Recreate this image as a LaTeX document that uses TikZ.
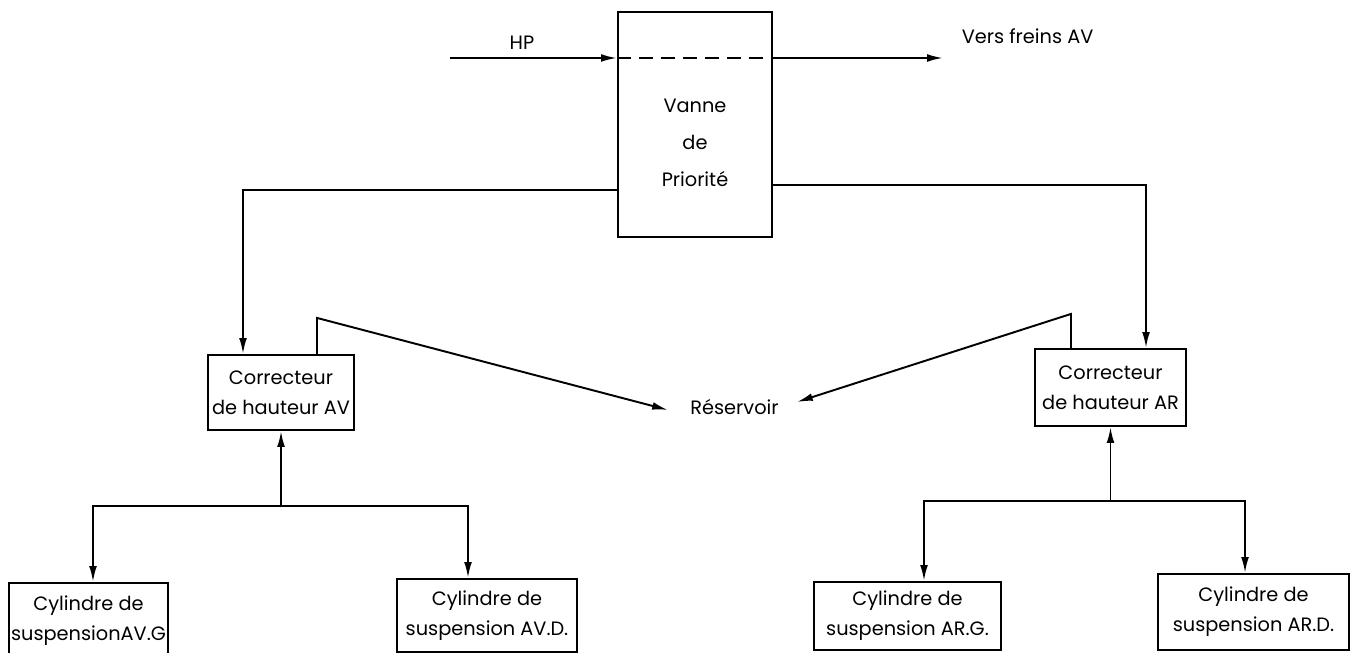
\documentclass[tikz,border=0pt]{standalone}
\usepackage{fontspec}
\setmainfont{Poppins}
\usetikzlibrary{arrows.meta,positioning,calc}

\begin{document}
\begin{tikzpicture}[>={Latex[length=9pt,width=4.4pt]},line width=1.1pt]
  \tikzstyle{block}=[draw,line width=1.2pt,align=center,inner sep=0pt]
  \tikzstyle{lbl}=[font=\fontsize{11}{17}\selectfont,align=center]
  \useasboundingbox (0,0) rectangle (27.02,13.06);

  % Priority valve
  \node[block,minimum width=3.08cm,minimum height=4.5cm] (vanne) at (13.90,10.57) {};
  \node[lbl] (vannetxt) at (13.90,10.20) {Vanne\\[4pt]de\\[4pt]Priorité};
  \coordinate (hp) at (9.00,11.90);
  \coordinate (freinsend) at (18.86,11.90);
  \node[lbl] (hplbl) at (10.44,12.20) {HP};
  \node[lbl,anchor=west] (freins) at (19.10,12.34) {Vers freins AV};

  % Height correctors
  \node[block,lbl,minimum width=2.92cm,minimum height=1.5cm] (corrav) at (5.62,5.21) {Correcteur\\de hauteur AV};
  \node[block,lbl,minimum width=3.02cm,minimum height=1.54cm] (corrar) at (22.21,5.31) {Correcteur\\de hauteur AR};
  \node[lbl] (res) at (14.69,4.92) {Réservoir};
  \coordinate (resl) at (13.36,4.86);
  \coordinate (resr) at (15.94,5.02);

  % Suspension cylinders
  \node[block,lbl,minimum width=3.18cm,minimum height=1.5cm] (cylavg) at (1.77,0.65) {Cylindre de\\suspensionAV.G};
  \node[block,lbl,minimum width=3.60cm,minimum height=1.46cm] (cylavd) at (9.74,0.75) {Cylindre de\\suspension AV.D.};
  \node[block,lbl,minimum width=3.74cm,minimum height=1.36cm] (cylarg) at (18.15,0.74) {Cylindre de\\suspension AR.G.};
  \node[block,lbl,minimum width=3.82cm,minimum height=1.52cm] (cylard) at (25.07,0.82) {Cylindre de\\suspension AR.D.};
  \coordinate (jav) at (5.62,2.94);
  \coordinate (jar) at (22.21,3.04);

  % HP line through the valve
  \draw[->] (hp) -- (vanne.west |- hp);
  \draw[dashed,dash pattern=on 8pt off 4.5pt] (vanne.west |- hp) -- (vanne.east |- hp);
  \draw[->] (vanne.east |- hp) -- (freinsend);

  % Valve outlets
  \draw[->] ([yshift=-1.31cm]vanne.west) -| ([xshift=-0.76cm]corrav.north);
  \draw[->] ([yshift=-1.21cm]vanne.east) -| ([xshift=0.71cm]corrar.north);

  % Returns to tank
  \draw[->] ([xshift=0.72cm]corrav.north) -- ++(0,0.72) -- (resl);
  \draw[->] ([xshift=-0.79cm]corrar.north) -- ++(0,0.68) -- (resr);

  % Cylinders
  \draw[->] (jav) -- (corrav.south);
  \draw[->] (jav) -| ([xshift=0.09cm]cylavg.north);
  \draw[->] (jav) -| ([xshift=-0.38cm]cylavd.north);
  \draw[->] (jar) -- (corrar.south);
  \draw[->] (jar) -| ([xshift=0.33cm]cylarg.north);
  \draw[->] (jar) -| ([xshift=-0.17cm]cylard.north);

\end{tikzpicture}
\end{document}
